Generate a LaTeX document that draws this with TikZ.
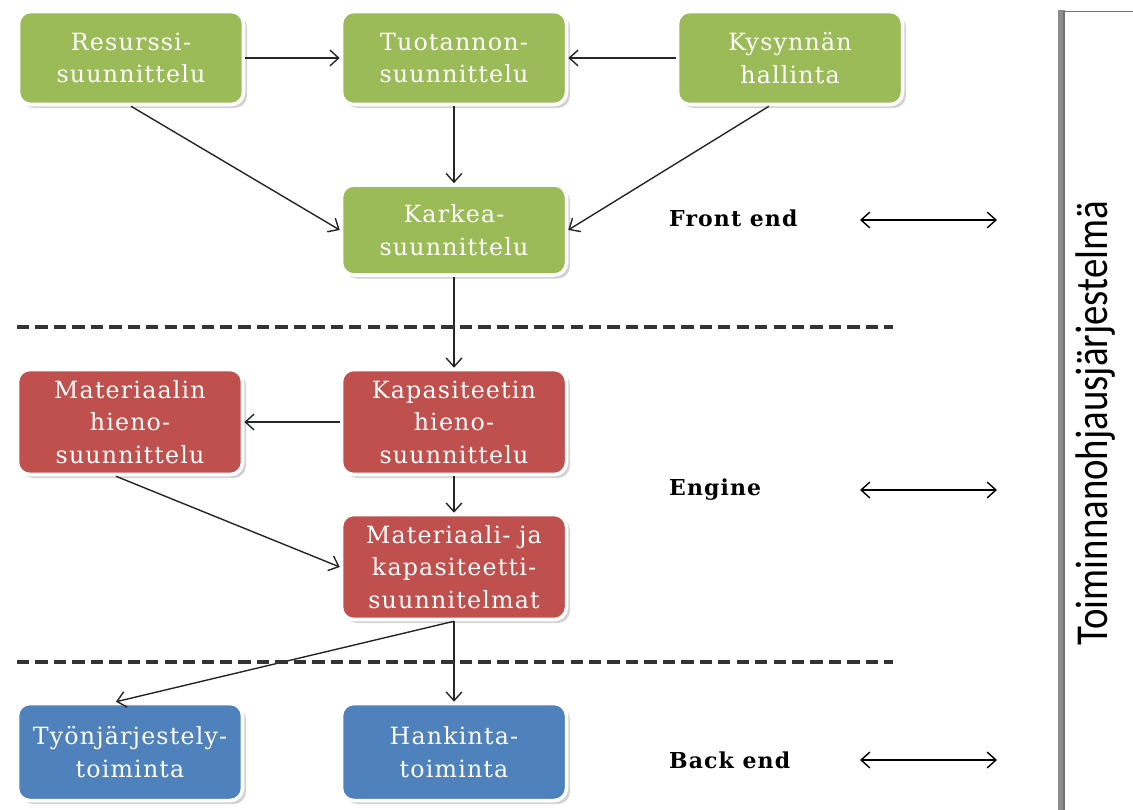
\documentclass[tikz,border=0pt]{standalone}
\usepackage{fontspec}
\usetikzlibrary{arrows.meta,positioning,shadows}
\newfontfamily\boxfont{DejaVu Serif}[LetterSpace=5]
\newfontfamily\sidefont{Carlito}
\definecolor{olivegreen}{HTML}{9BBB59}
\definecolor{brickred}{HTML}{C0504D}
\definecolor{steelblue}{HTML}{4F81BD}

\begin{document}
\begin{tikzpicture}[>={Straight Barb[length=5pt,width=9pt]},
    box/.style={rounded corners=7pt, draw=white, line width=2pt, text=white,
      minimum width=4.5cm, align=center, inner sep=2pt,
      font=\boxfont\fontsize{13.5}{18.5}\selectfont,
      drop shadow={opacity=0.35, shadow xshift=2pt, shadow yshift=-2pt}},
    gbox/.style={box, fill=olivegreen, minimum height=1.86cm},
    rbox/.style={box, fill=brickred, minimum height=2.1cm},
    bbox/.style={box, fill=steelblue, minimum height=1.94cm},
    flow/.style={->, line width=0.8pt, black!85},
    level/.style={font=\boxfont\bfseries\fontsize{12.5}{14}\selectfont, anchor=west},
    divider/.style={dash pattern=on 7pt off 3.5pt, line width=1.8pt, black!80}]
  \useasboundingbox (0,0) rectangle (22.66,16.18);
  % front end
  \node[gbox] (res) at (2.62,15.02) {Resurssi-\\suunnittelu};
  \node[gbox] (tuo) at (9.08,15.02) {Tuotannon-\\suunnittelu};
  \node[gbox] (kys) at (15.80,15.02) {Kysynnän\\hallinta};
  \node[gbox, minimum height=1.8cm] (kar) at (9.08,11.58) {Karkea-\\suunnittelu};
  % engine
  \node[rbox] (mat) at (2.60,7.74) {Materiaalin\\hieno-\\suunnittelu};
  \node[rbox] (kap) at (9.08,7.74) {Kapasiteetin\\hieno-\\suunnittelu};
  \node[rbox] (mak) at (9.08,4.84) {Materiaali- ja\\kapasiteetti-\\suunnitelmat};
  % back end
  \node[bbox] (tyo) at (2.60,1.14) {Työnjärjestely-\\toiminta};
  \node[bbox] (han) at (9.08,1.14) {Hankinta-\\toiminta};

  \draw[flow] (res) -- (tuo);
  \draw[flow] (kys) -- (tuo);
  \draw[flow] (res.south) -- (kar.west);
  \draw[flow] (tuo) -- (kar);
  \draw[flow] ([xshift=-12pt]kys.south) -- (kar.east);
  \draw[flow] (kar) -- (kap);
  \draw[flow] (kap) -- (mat);
  \draw[flow] ([xshift=-8pt]mat.south) -- (mak.west);
  \draw[flow] (kap) -- (mak);
  \draw[flow] (mak.south) -- ([xshift=-8pt]tyo.north);
  \draw[flow] (mak.south) -- (han);

  \draw[divider] (0.34,9.64) -- (17.86,9.64);
  \draw[divider] (0.34,2.94) -- (17.86,2.94);

  \node[level] (fe) at (13.26,11.82) {Front end};
  \node[level] (en) at (13.26,6.38) {Engine};
  \node[level] (be) at (13.26,0.98) {Back end};

  % side system
  \fill[black!45] (21.16,-0.1) rectangle (21.30,15.98);
  \draw[black!55, line width=0.8pt, fill=white] (21.28,-0.1) rectangle (22.9,15.95);
  \node[rotate=90, font=\sidefont\fontsize{26}{30}\selectfont] (sys) at (21.92,7.72)
    {\scalebox{0.85}[1]{Toiminnanohjausjärjestelmä}};

  \coordinate (fa1) at (17.2,11.78);  \coordinate (fb1) at (19.94,11.78);
  \coordinate (fa2) at (17.2,6.38);   \coordinate (fb2) at (19.94,6.38);
  \coordinate (fa3) at (17.2,0.98);   \coordinate (fb3) at (19.94,0.98);
  \foreach \i in {1,2,3}
    \draw[<->, line width=0.8pt] (fa\i) -- (fb\i);
\end{tikzpicture}
\end{document}
